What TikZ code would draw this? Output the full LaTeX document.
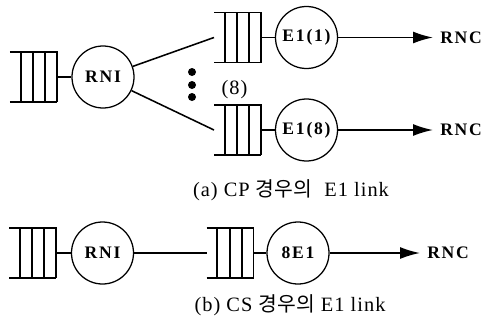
\documentclass[tikz,border=0pt]{standalone}
\usepackage{fontspec}
\setmainfont{Liberation Serif}
\newfontfamily\krfont{Noto Sans CJK KR}
\newfontfamily\lblfont[LetterSpace=10]{Liberation Serif}
\newfontfamily\capfont[LetterSpace=5]{Liberation Serif}
\usetikzlibrary{arrows.meta,positioning,calc}
\tikzset{
  qline/.style={line width=1.4pt},
  queue/.style={rectangle,minimum width=1.175cm,minimum height=1.25cm,
                inner sep=0pt,outer sep=0pt},
  srv/.style={circle,draw,line width=0.9pt,minimum size=1.55cm,inner sep=0pt,
              font=\lblfont\bfseries\fontsize{12.5}{14}\selectfont},
  link/.style={line width=1.1pt},
  tolink/.style={-{Latex[length=5mm,width=3mm]},line width=1.2pt,
                 shorten >=1.75mm},
  dest/.style={anchor=west,inner sep=0pt,
               font=\lblfont\bfseries\fontsize{12.5}{14}\selectfont},
  vdot/.style={circle,fill,inner sep=0pt,minimum size=0.2cm},
  caption/.style={font=\capfont\fontsize{14.5}{16}\selectfont},
}
% queue drawing: open on the left, bars on the right
\newcommand{\qbars}[1]{%
  \draw[qline] (#1.north west) -- (#1.north east) -- (#1.south east);
  \draw[qline] (#1.south west) -- (#1.south east);
  \foreach \fr in {0.23,0.49,0.745}
    \draw[qline] ($(#1.north west)!\fr!(#1.north east)$)
      -- ($(#1.south west)!\fr!(#1.south east)$);
}

\begin{document}
\begin{tikzpicture}
  \useasboundingbox (0,0) rectangle (12.1,8.1);

  % (a) CP case
  \node[queue] (qa0) at (0.8375,6.175) {};
  \node[srv] (rniA) at (2.575,6.175) {RNI};
  \node[queue] (qa1) at (5.9375,7.1625) {};
  \node[queue] (qa8) at (5.9375,4.85) {};
  \node[srv] (e1a) at (7.6625,7.1625) {E1(1)};
  \node[srv] (e8a) at (7.6625,4.85) {E1(8)};
  \node[dest] (rnc1) at (11.0,7.1625) {RNC};
  \node[dest] (rnc8) at (11.0,4.85) {RNC};
  \foreach \y [count=\i] in {6.3,5.975,5.675}
    \node[vdot] (dot\i) at (4.8,\y) {};
  \node[caption] (cnt) at (5.8625,5.85) {(8)};
  \qbars{qa0}\qbars{qa1}\qbars{qa8}
  \draw[link] (qa0.east) -- (rniA);
  \draw[link] (rniA) -- (qa1.west);
  \draw[link] (rniA) -- (qa8.west);
  \draw[link] (qa1.east) -- (e1a);
  \draw[link] (qa8.east) -- (e8a);
  \draw[tolink] (e1a) -- (rnc1.west);
  \draw[tolink] (e8a) -- (rnc8.west);
  \node[caption] (capA) at (7.275,3.35) {(a) CP {\krfont 경우의}\ \ E1 link};

  % (b) CS case
  \node[queue] (qb0) at (0.8125,1.775) {};
  \node[srv] (rniB) at (2.5625,1.775) {RNI};
  \node[queue] (qb1) at (5.75,1.775) {};
  \node[srv] (e8b) at (7.45,1.775) {8E1};
  \node[dest] (rncB) at (10.675,1.775) {RNC};
  \qbars{qb0}\qbars{qb1}
  \draw[link] (qb0.east) -- (rniB);
  \draw[link] (rniB) -- (qb1.west);
  \draw[link] (qb1.east) -- (e8b);
  \draw[tolink] (e8b) -- (rncB.west);
  \node[caption] (capB) at (7.25,0.475) {(b) CS {\krfont 경우의} E1 link};
\end{tikzpicture}
\end{document}
